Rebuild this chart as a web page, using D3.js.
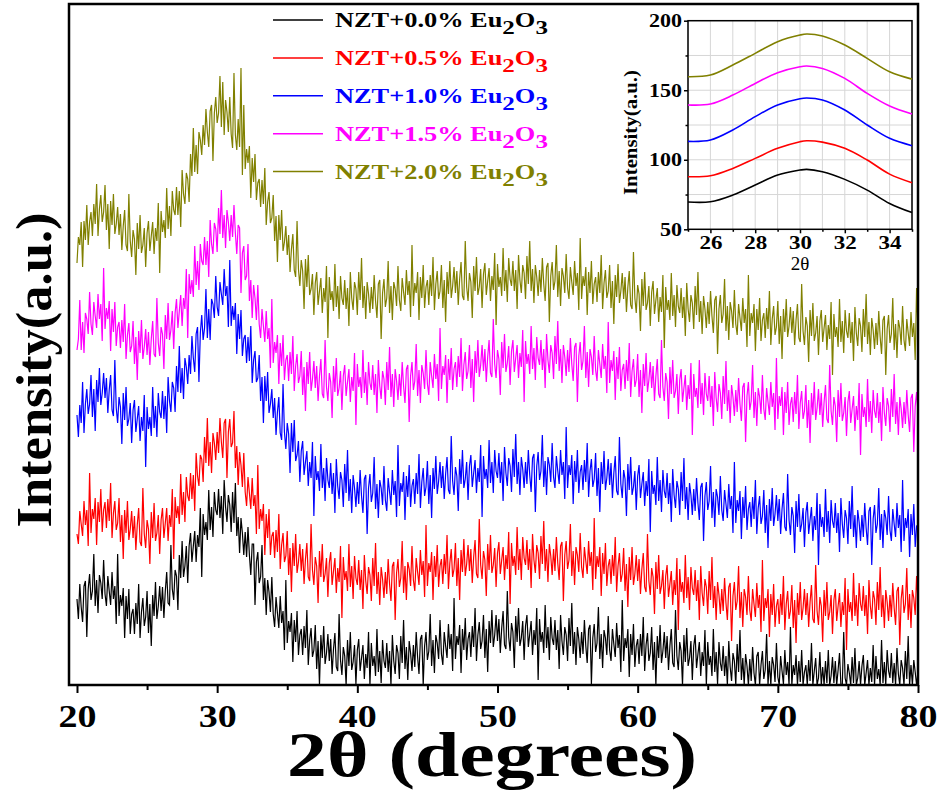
<!DOCTYPE html>
<html><head><meta charset="utf-8">
<script src="https://cdn.jsdelivr.net/npm/d3@7"></script>
<style>
body{margin:0;background:#fff}
svg{display:block}
text{font-family:"Liberation Serif","Times New Roman",serif}
</style>
</head><body>
<svg id="c" width="940" height="792"></svg>
<script>
// ---- main XRD patterns: 2θ from 20 to 80, step 0.1 (stacked intensities, a.u.)
const thetaStart = 20, thetaEnd = 80;
const nzt00 = [86,66,101,78,63,99,104,48,96,111, 85,94,131,79,105,72,110,102,86,125, 91,79,109,94,80,113,86,99,61,131, 69,90,79,97,47,89,66,96,51,71, 76,51,82,61,101,47,73,87,59,68, 94,52,81,39,90,69,103,66,79,99, 74,98,67,94,113,82,80,140,96,85, 115,109,75,130,107,144,108,119,139,102, 139,152,123,139,154,123,150,138,177,108, 171,150,163,145,195,155,178,148,193,175,
170,196,167,189,151,205,178,163,190,180, 153,193,162,202,149,168,132,167,152,130, 153,128,158,130,110,141,141,80,123,133, 102,108,140,85,107,70,105,93,73,108, 71,58,88,72,57,89,62,74,35,105, 42,64,53,72,23,65,43,74,30,50, 56,30,59,37,75,20,45,57,28,35, 60,16,44,0,50,27,59,21,32,51, 24,46,11,36,52,18,14,71,25,10, 38,29,0,45,19,53,15,23,40,1,
35,46,14,27,40,6,31,17,53,0, 42,19,29,9,56,13,34,2,45,24, 17,42,13,34,0,50,24,11,40,32, 6,49,22,65,16,38,5,44,32,14, 40,18,53,28,11,46,50,0,39,53, 25,34,71,19,45,12,50,42,26,65, 31,20,53,39,27,61,36,51,14,87, 26,49,40,60,12,56,35,67,25,46, 53,28,59,38,77,24,50,63,36,44, 70,27,56,13,64,42,75,38,50,70,
44,66,32,57,74,40,36,94,48,34, 62,53,17,69,43,77,39,47,64,25, 59,70,38,51,64,30,55,40,77,5, 66,43,53,32,80,37,58,25,68,47, 40,65,35,55,16,70,44,30,58,50, 24,67,39,82,31,53,20,58,46,27, 53,31,65,39,22,56,60,1,47,61, 33,42,78,26,51,17,55,47,30,69, 35,24,56,41,28,62,37,50,13,85, 24,47,37,56,8,51,30,61,18,39,
46,21,51,29,68,14,40,52,24,32, 58,15,43,0,49,27,60,22,34,53, 27,49,15,39,56,22,18,75,29,15, 43,34,0,50,23,57,19,27,44,5, 39,50,17,31,43,9,33,19,55,0, 43,20,29,9,56,13,33,1,43,22, 14,39,9,29,0,44,18,4,32,24, 0,41,13,55,5,27,0,31,19,0, 26,4,38,12,0,29,33,0,20,34, 6,15,51,0,24,0,28,20,3,42,
8,0,29,14,1,35,10,23,0,58, 0,20,10,30,0,24,3,35,0,13, 20,0,25,4,42,0,14,27,0,7, 33,0,18,0,24,2,35,0,9,28, 2,24,0,15,32,0,0,53,7,0, 21,12,0,28,2,37,0,7,24,0, 19,30,0,12,25,0,17,3,40,0, 29,6,16,0,45,2,23,0,35,14, 7,32,2,22,0,37,11,0,25,17, 0,34,6,49,0,20,0,25,13,0, 14];
const nzt05 = [151,141,174,161,149,184,160,175,139,212, 152,176,166,187,140,183,163,196,153,175, 183,157,186,164,202,147,172,184,155,162, 187,143,170,126,175,152,184,145,156,174, 147,169,135,160,177,143,139,197,151,137, 165,156,121,173,147,182,144,152,170,131, 165,177,147,162,177,144,170,158,196,126, 188,167,179,161,211,170,193,163,208,189, 184,212,186,210,174,232,209,199,230,226, 203,248,222,267,219,243,212,252,242,225,
253,232,267,243,227,262,266,207,253,266, 238,242,274,217,239,200,233,220,198,232, 193,179,208,192,176,207,179,190,151,220, 156,176,164,181,130,171,147,176,130,149, 153,127,155,133,171,116,140,152,123,129, 154,110,137,93,142,119,151,112,123,141, 114,136,101,126,142,108,104,161,115,100, 128,119,82,134,108,141,103,111,127,88, 122,133,100,114,127,92,117,103,139,67, 128,105,114,94,141,98,119,86,129,107,
100,125,95,115,76,130,104,91,118,110, 84,127,99,142,91,113,80,118,106,87, 113,91,126,101,84,119,123,65,112,126, 98,107,144,92,119,85,123,116,99,139, 105,94,127,113,100,135,110,124,88,160, 99,122,113,133,85,129,108,140,98,119, 126,101,131,111,150,96,122,136,108,116, 142,99,127,85,135,113,146,109,121,140, 114,136,102,128,145,111,107,166,120,106, 134,125,89,141,115,150,112,120,137,98,
132,143,111,125,138,105,130,116,153,81, 142,119,129,110,158,115,136,105,148,127, 120,145,115,136,97,151,125,112,140,132, 106,149,121,164,114,136,103,141,129,110, 136,114,148,122,105,139,143,84,130,144, 116,125,161,109,134,100,138,130,113,152, 118,107,138,124,111,144,119,133,95,167, 106,129,118,138,89,132,111,142,99,119, 126,101,130,109,148,93,119,132,103,111, 137,94,121,78,128,105,138,100,111,130,
104,126,91,116,132,98,93,151,104,90, 117,108,71,123,96,130,91,99,115,76, 109,120,88,101,114,80,105,90,127,55, 116,93,103,82,130,87,108,75,118,97, 90,115,84,105,65,119,92,79,106,98, 71,114,85,128,77,99,65,103,90,71, 96,74,107,82,65,98,102,44,89,103, 75,84,119,67,93,58,96,88,70,109, 75,64,96,81,68,102,77,90,53,125, 64,87,77,96,48,91,70,101,58,79,
86,61,91,70,109,55,81,94,66,74, 100,57,85,42,92,70,103,65,77,96, 70,92,58,83,100,66,62,120,74,60, 88,79,43,95,69,103,65,73,90,51, 85,96,64,79,92,58,83,70,107,35, 96,73,83,64,112,69,90,59,102,81, 74,99,69,90,51,105,79,66,94,86, 60,103,75,118,68,90,57,95,83,64, 90,68,102,77,60,94,98,40,86,100, 72,81,117,65,91,57,95,87,70,109, 84];
const nzt10 = [270,248,280,262,303,252,281,296,271,281, 310,268,296,254,305,283,317,280,292,312, 287,307,272,295,310,275,269,325,277,262, 288,278,241,292,265,298,259,266,282,242, 275,285,253,266,279,244,268,254,290,218, 278,256,268,249,298,257,279,248,292,273, 267,294,266,289,252,308,284,273,303,297, 273,319,293,339,292,317,286,327,318,301, 330,311,349,327,313,351,358,303,352,370, 345,357,396,347,376,345,386,381,367,409,
378,369,403,391,380,416,389,399,358,425, 359,379,365,382,331,371,346,375,329,346, 350,322,348,324,359,302,325,334,303,307, 330,284,308,262,309,284,313,272,281,296, 267,287,250,273,288,252,245,301,253,236, 262,251,212,262,233,265,224,230,244,203, 234,244,210,223,234,199,223,207,243,169, 229,205,214,194,241,197,217,184,227,205, 197,222,191,212,172,226,199,186,213,205, 178,221,192,235,184,206,172,210,197,178,
203,181,215,189,172,206,210,151,197,211, 183,192,228,176,201,167,205,197,180,219, 185,174,207,193,180,215,190,204,168,240, 179,202,193,213,165,209,188,220,178,199, 206,181,212,191,231,177,203,217,189,198, 224,181,210,167,217,196,229,191,204,223, 197,219,186,211,228,195,191,249,204,190, 218,209,174,226,201,235,197,206,223,185, 219,230,198,212,225,192,217,203,240,168, 229,206,216,197,245,202,223,192,235,214,
207,232,202,223,184,238,212,199,227,219, 193,236,208,251,201,223,190,228,216,197, 223,201,235,210,193,227,231,173,219,233, 205,214,250,198,224,190,228,220,203,242, 208,197,229,214,201,235,210,223,186,258, 197,220,210,230,181,224,203,235,192,213, 220,195,225,203,242,188,214,226,198,206, 232,189,217,173,223,201,234,195,207,226, 200,222,187,212,229,194,190,248,201,187, 215,206,169,221,195,228,190,198,214,175,
209,220,187,201,213,179,204,189,226,153, 214,191,200,180,228,184,205,173,215,194, 187,212,181,202,163,216,190,177,204,196, 170,213,184,227,176,198,165,202,190,170, 196,174,207,182,165,198,202,144,189,203, 175,184,219,167,193,158,196,188,170,209, 175,164,195,181,167,201,176,189,152,223, 162,185,174,194,146,188,167,199,155,176, 183,158,188,166,205,151,177,189,161,169, 195,152,180,137,186,164,197,159,171,190,
164,186,151,176,192,158,154,211,165,150, 178,169,132,184,158,191,153,161,177,138, 172,183,151,165,178,144,169,155,192,120, 181,158,168,148,196,153,174,142,185,164, 157,182,152,172,133,187,161,147,175,167, 141,184,156,199,148,170,137,175,163,144, 170,148,182,157,140,174,178,120,166,180, 152,161,197,145,171,137,175,167,150,189, 155,144,176,161,148,182,157,170,133,205, 144,167,157,176,128,171,150,181,138,159, 160];
const nzt15 = [335,346,385,335,363,332,372,366,351,393, 361,350,383,369,357,391,366,381,344,417, 356,377,366,384,334,376,353,383,339,358, 363,337,365,343,381,326,350,362,333,339, 364,321,348,305,354,332,365,326,338,356, 330,353,320,346,364,331,328,387,342,329, 358,351,316,370,346,382,345,355,374,336, 372,386,357,374,390,359,387,376,416,347, 411,391,405,388,439,400,424,395,441,424, 420,448,420,444,408,465,441,431,462,456,
433,477,451,495,447,470,437,475,463,444, 470,448,480,452,431,460,457,392,432,439, 405,409,441,384,405,367,400,387,365,400, 361,347,376,359,343,374,346,357,317,386, 322,343,332,350,301,342,319,350,305,325, 330,304,333,311,349,294,319,331,302,309, 334,290,318,274,323,301,333,294,306,324, 297,319,284,309,326,291,287,345,298,284, 312,303,267,319,293,327,289,297,314,275, 309,320,289,303,316,283,308,294,332,260,
321,298,308,287,335,292,313,280,323,302, 295,320,290,311,272,325,299,286,314,306, 280,323,295,338,288,311,278,316,304,285, 311,289,323,299,282,316,320,263,309,323, 295,304,341,289,315,282,320,312,296,335, 301,290,323,309,297,331,306,321,284,357, 296,319,310,330,282,326,305,337,295,316, 323,298,329,308,347,294,320,333,306,314, 340,297,326,283,334,312,345,308,320,340, 314,336,303,328,345,312,308,366,321,307,
335,326,290,343,317,351,313,322,339,300, 334,345,313,327,340,307,332,318,355,283, 344,321,331,311,359,316,337,305,348,327, 320,345,315,336,297,351,325,312,340,332, 306,349,321,364,314,336,302,340,328,309, 335,313,347,321,304,338,342,283,329,343, 315,324,359,307,333,298,336,328,310,349, 315,304,335,321,307,341,316,329,292,363, 302,325,314,334,285,328,306,338,294,315, 321,296,325,304,342,288,314,326,298,305,
331,288,315,272,321,299,332,293,305,323, 297,319,284,309,326,291,287,345,298,284, 312,303,266,318,291,325,287,294,311,271, 305,316,283,297,310,275,300,286,322,250, 311,288,297,277,325,281,302,270,312,291, 284,309,278,299,259,313,287,273,301,292, 266,309,281,324,274,295,262,300,288,269, 295,273,307,281,264,298,302,243,289,303, 275,284,320,267,293,259,297,288,271,310, 276,265,297,283,270,303,278,292,255,327,
266,289,279,298,250,293,272,303,260,281, 288,263,293,271,310,256,282,294,266,274, 300,257,285,242,292,270,303,265,277,296, 270,292,258,283,300,266,262,320,274,260, 288,279,243,295,268,302,264,272,288,249, 283,294,262,276,289,254,279,265,302,230, 291,268,278,258,306,263,284,252,295,274, 267,292,262,283,244,298,272,259,287,279, 253,296,268,311,261,283,250,288,276,257, 283,261,295,270,253,287,291,233,279,293, 272];
const nzt20 = [422,448,440,463,418,464,445,480,440,463, 473,449,481,461,501,449,476,490,463,473, 500,455,481,436,484,460,491,451,461,478, 450,471,435,459,475,440,434,491,444,428, 455,446,410,462,436,470,432,440,457,418, 452,464,434,449,463,431,457,444,482,412, 474,453,465,447,497,456,479,449,494,475, 470,498,470,494,458,515,491,481,512,506, 483,531,509,557,513,540,511,553,545,530, 560,540,576,553,538,574,580,524,572,588,
562,572,609,558,603,550,585,573,553,588, 551,537,612,550,535,566,538,617,510,580, 516,536,522,539,487,527,503,531,485,502, 506,478,505,481,517,460,483,493,462,467, 490,444,469,423,470,445,475,434,443,459, 430,450,413,436,451,415,408,464,416,399, 425,414,376,426,398,430,390,396,411,370, 402,413,380,394,407,372,397,383,419,347, 408,385,394,374,421,378,399,366,409,387, 380,405,376,397,359,413,387,375,403,396,
370,413,385,427,377,399,366,403,391,372, 398,376,410,384,367,401,405,346,392,406, 378,387,424,372,399,365,403,396,379,419, 385,374,407,393,380,415,390,404,368,440, 379,402,392,413,365,408,387,420,377,398, 405,380,410,389,428,375,401,414,386,394, 420,377,405,363,413,391,424,387,399,418, 392,414,380,406,423,389,385,444,398,384, 412,403,367,419,394,428,390,398,416,377, 411,422,390,404,417,384,409,395,432,360,
421,398,408,389,437,394,415,383,427,406, 399,424,394,415,376,430,405,392,420,412, 386,429,401,444,394,416,382,420,408,389, 415,393,427,401,384,418,422,363,409,423, 395,404,440,388,414,379,417,409,392,431, 397,386,418,403,390,424,399,412,375,447, 386,409,399,418,370,413,392,424,381,401, 408,383,413,392,430,376,402,415,387,394, 420,377,404,361,410,388,421,382,394,412, 386,408,373,398,414,380,376,433,387,372,
400,391,354,406,379,413,375,382,399,359, 393,404,371,385,397,363,388,373,410,337, 398,375,385,365,412,369,390,358,400,379, 372,397,367,388,349,402,376,363,390,382, 356,399,370,413,363,384,351,389,376,357, 383,361,394,369,352,385,389,331,376,390, 362,371,406,354,379,345,383,374,357,395, 361,350,381,367,354,387,362,376,338,410, 349,372,362,381,334,376,355,387,344,365, 372,347,377,356,394,340,366,379,350,358,
384,341,369,326,376,353,386,348,359,378, 352,374,340,365,381,347,343,401,354,340, 368,359,323,375,349,382,344,352,369,330, 364,375,343,357,370,335,360,346,383,310, 371,348,358,338,386,343,364,332,375,354, 347,372,342,363,324,378,352,339,367,359, 333,376,348,391,341,363,330,367,355,336, 362,340,374,348,331,365,369,310,356,370, 342,351,387,335,361,327,365,357,340,379, 345,334,366,352,339,373,348,362,325,397, 354];

const sampleLabels = ["NZT+0.0% ", "NZT+0.5% ", "NZT+1.0% ", "NZT+1.5% ", "NZT+2.0% "];
const seriesColors = ["#000000", "#ff0000", "#0000ff", "#ff00ff", "#808000"];
const xTicksMajor = [20, 30, 40, 50, 60, 70, 80];
const xTicksMinor = [25, 35, 45, 55, 65, 75];

// ---- inset (25–35°, smoothed)
const insetTheta = [25, 26, 27, 28, 29, 30, 30.3, 31, 32, 33, 34, 35];
const inset00 = [69.6, 69.8, 74.6, 81.8, 89.0, 92.6, 93.1, 91.4, 85.9, 78.2, 68.6, 62.0];
const inset05 = [87.8, 88.5, 93.8, 101.0, 108.2, 113.0, 113.7, 112.7, 108.2, 99.8, 89.7, 83.5];
const inset10 = [113.2, 114.2, 121.4, 131.0, 139.4, 143.9, 144.4, 143.0, 135.8, 125.0, 115.4, 110.1];
const inset15 = [139.4, 140.1, 146.5, 154.9, 162.6, 166.9, 167.4, 165.7, 158.5, 147.7, 138.6, 132.9];
const inset20 = [159.7, 160.9, 168.1, 176.5, 184.9, 189.7, 190.4, 189.0, 182.5, 172.9, 163.3, 158.0];
const insetXTicksMajor = [26, 28, 30, 32, 34];
const insetXTicksMinor = [25, 27, 29, 31, 33, 35];
const insetYTicksMajor = [50, 100, 150, 200];
const insetYTicksMinor = [75, 125, 175];

const svg = d3.select("#c");
const mainSeries = [nzt00, nzt05, nzt10, nzt15, nzt20];
const insetSeries = [inset00, inset05, inset10, inset15, inset20];

// ---- main scales
const x = d3.scaleLinear().domain([19.43, 80]).range([69, 918]);
const y = d3.scaleLinear().domain([0, 681]).range([685, 4]);

svg.append("defs").append("clipPath").attr("id", "clip")
  .append("rect").attr("x", 69).attr("y", 4).attr("width", 849).attr("height", 681);

const plot = svg.append("g").attr("clip-path", "url(#clip)");
[4, 3, 2, 1, 0].forEach(k => {
  const s = mainSeries[k];
  const step = (thetaEnd - thetaStart) / (s.length - 1);
  const line = d3.line().x((d, i) => x(thetaStart + i * step)).y(d => y(d));
  plot.append("path").datum(s)
    .attr("fill", "none").attr("stroke", seriesColors[k])
    .attr("stroke-width", 1.2)
    .attr("d", line);
});

// frame
svg.append("rect").attr("x", 69).attr("y", 4).attr("width", 849).attr("height", 681)
  .attr("fill", "none").attr("stroke", "#000").attr("stroke-width", 2.5);

// x axis ticks
const gx = svg.append("g").attr("transform", "translate(0,685)")
  .call(d3.axisBottom(x).tickValues(xTicksMajor).tickSize(8).tickSizeOuter(0));
gx.select(".domain").remove();
gx.selectAll("line").attr("stroke-width", 2);
gx.selectAll("text").attr("y", 42).attr("dy", 0)
  .attr("font-size", 31).attr("font-weight", "bold").attr("fill", "#000")
  .attr("textLength", 38).attr("lengthAdjust", "spacingAndGlyphs");
const gxm = svg.append("g").attr("transform", "translate(0,685)")
  .call(d3.axisBottom(x).tickValues(xTicksMinor).tickSize(5).tickSizeOuter(0).tickFormat(""));
gxm.select(".domain").remove();
gxm.selectAll("line").attr("stroke-width", 2);

// axis titles
svg.append("text").attr("x", 492).attr("y", 776).attr("text-anchor", "middle")
  .attr("font-size", 63).attr("font-weight", "bold")
  .attr("textLength", 410).attr("lengthAdjust", "spacingAndGlyphs")
  .text("2θ (degrees)");
svg.append("text").attr("transform", "translate(51,370) rotate(-90)").attr("text-anchor", "middle")
  .attr("font-size", 50).attr("font-weight", "bold")
  .attr("textLength", 315).attr("lengthAdjust", "spacingAndGlyphs")
  .text("Intensity(a.u.)");

// legend
const legend = svg.append("g");
sampleLabels.forEach((lab, i) => {
  const yy = 20 + i * 37.9;
  legend.append("line").attr("x1", 273).attr("x2", 323).attr("y1", yy).attr("y2", yy)
    .attr("stroke", seriesColors[i]).attr("stroke-width", 1.5);
  const t = legend.append("text").attr("font-size", 20).attr("font-weight", "bold")
    .attr("fill", seriesColors[i]);
  t.append("tspan").text(lab + "Eu");
  t.append("tspan").attr("dy", 7).attr("font-size", 19).text("2");
  t.append("tspan").attr("dy", -7).text("O");
  t.append("tspan").attr("dy", 7).attr("font-size", 19).text("3");
  const w = t.node().getComputedTextLength();
  t.attr("transform", `translate(335,${yy + 7}) scale(${213 / w},1)`);
});

// ---- inset
const xi = d3.scaleLinear().domain([25, 35]).range([688, 912]);
const yi = d3.scaleLinear().domain([50, 200]).range([229.3, 20.7]);
const ins = svg.append("g");
ins.selectAll(".vg").data(d3.range(25, 36)).join("line")
  .attr("x1", d => xi(d)).attr("x2", d => xi(d)).attr("y1", yi(50)).attr("y2", yi(200))
  .attr("stroke", "#d6d6d6").attr("stroke-width", 1);
ins.selectAll(".hg").data([75, 100, 125, 150, 175, 200]).join("line")
  .attr("x1", xi(25)).attr("x2", xi(35)).attr("y1", d => yi(d)).attr("y2", d => yi(d))
  .attr("stroke", "#d6d6d6").attr("stroke-width", 1);
ins.append("rect").attr("x", xi(25)).attr("y", yi(200)).attr("width", xi(35) - xi(25)).attr("height", yi(50) - yi(200))
  .attr("fill", "none").attr("stroke", "#000").attr("stroke-width", 1.5);

const iline = d3.line().x((d, i) => xi(insetTheta[i])).y(d => yi(d)).curve(d3.curveCatmullRom.alpha(0.5));
insetSeries.forEach((s, k) => {
  ins.append("path").datum(s).attr("fill", "none").attr("stroke", seriesColors[k])
    .attr("stroke-width", 1.6).attr("d", iline);
});

const gix = ins.append("g").attr("transform", `translate(0,${yi(50)})`)
  .call(d3.axisBottom(xi).tickValues(insetXTicksMajor).tickSize(4).tickSizeOuter(0));
gix.select(".domain").remove();
gix.selectAll("line").attr("stroke-width", 1.5);
gix.selectAll("text").attr("y", 20).attr("dy", 0)
  .attr("font-size", 18).attr("font-weight", "bold").attr("fill", "#000")
  .attr("textLength", 23).attr("lengthAdjust", "spacingAndGlyphs");
const gixm = ins.append("g").attr("transform", `translate(0,${yi(50)})`)
  .call(d3.axisBottom(xi).tickValues(insetXTicksMinor).tickSize(2.5).tickSizeOuter(0).tickFormat(""));
gixm.select(".domain").remove();
gixm.selectAll("line").attr("stroke-width", 1.5);

const giy = ins.append("g").attr("transform", `translate(${xi(25)},0)`)
  .call(d3.axisLeft(yi).tickValues(insetYTicksMajor).tickSize(4).tickSizeOuter(0));
giy.select(".domain").remove();
giy.selectAll("line").attr("stroke-width", 1.5);
giy.selectAll("text").attr("x", -6).attr("dy", 6)
  .attr("font-size", 18).attr("font-weight", "bold").attr("fill", "#000")
  .each(function (d) { d3.select(this).attr("textLength", String(d).length * 11).attr("lengthAdjust", "spacingAndGlyphs"); });
const giym = ins.append("g").attr("transform", `translate(${xi(25)},0)`)
  .call(d3.axisLeft(yi).tickValues(insetYTicksMinor).tickSize(2.5).tickSizeOuter(0).tickFormat(""));
giym.select(".domain").remove();
giym.selectAll("line").attr("stroke-width", 1.5);

ins.append("text").attr("x", 800).attr("y", 270).attr("text-anchor", "middle")
  .attr("font-size", 19).text("2θ");
ins.append("text").attr("transform", "translate(637,132.5) rotate(-90)").attr("text-anchor", "middle")
  .attr("font-size", 18).attr("font-weight", "bold")
  .attr("textLength", 125).attr("lengthAdjust", "spacingAndGlyphs")
  .text("Intensity(a.u.)");
</script>
</body></html>
